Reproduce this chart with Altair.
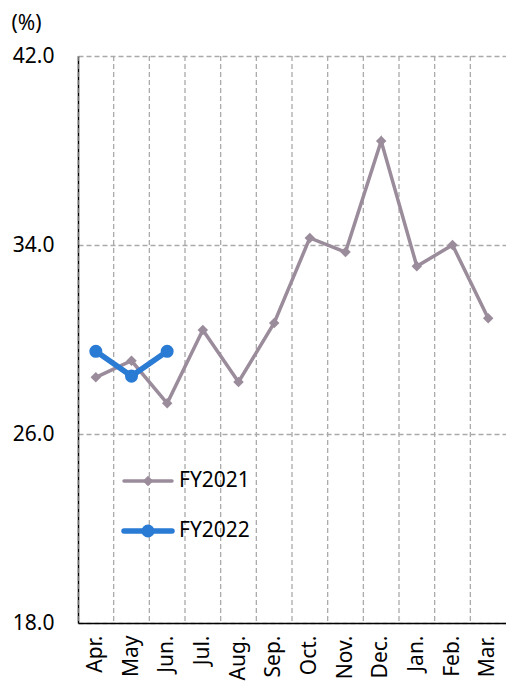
import altair as alt
import pandas as pd

months = ["Apr.", "May", "Jun.", "Jul.", "Aug.", "Sep.", "Oct.", "Nov.", "Dec.", "Jan.", "Feb.", "Mar."]
fy2021 = [28.4, 29.1, 27.3, 30.4, 28.2, 30.7, 34.3, 33.7, 38.4, 33.1, 34.0, 30.9]
fy2022 = [29.5, 28.45, 29.5]
series_names = ["FY2021", "FY2022"]
y_ticks = [18, 26, 34, 42]

c21 = "#9b8c9b"
c22 = "#2a7bd4"
FONT = "Noto Sans"
FS = 21

df21 = pd.DataFrame({"month": months, "value": fy2021})
df22 = pd.DataFrame({"month": months[:3], "value": fy2022})
dfm = pd.DataFrame({"month": months})

xsc = alt.Scale(domain=months, paddingInner=0, paddingOuter=0)
ysc = alt.Scale(domain=[18, 42], nice=False, zero=False)

xenc = alt.X("month:N", sort=months, scale=xsc, title=None,
             axis=alt.Axis(labelAngle=-90, labelFontSize=FS, labelFont=FONT, labelColor="black",
                           labelPadding=12, ticks=False, domainColor="black", domainWidth=1.5,
                           labelAlign="right", labelBaseline="middle"))
yenc = alt.Y("value:Q", scale=ysc, title="(%)",
             axis=alt.Axis(values=y_ticks, format=".1f", labelFontSize=FS, labelFont=FONT,
                           labelColor="black", labelPadding=24, ticks=False,
                           domainColor="black", domainWidth=1.5,
                           grid=True, gridColor="#aaaaaa", gridDash=[5, 3], gridWidth=1.3,
                           titleAngle=0, titleFontSize=FS, titleFont=FONT, titleFontWeight="normal",
                           titleColor="black", titleAlign="left", titleBaseline="top",
                           titleX=-67, titleY=-44))

vgrid = alt.Chart(dfm).mark_rule(color="#aaaaaa", strokeDash=[5, 3], strokeWidth=1.3).encode(
    x=alt.X("month:N", sort=months, scale=xsc, bandPosition=0, title=None)
)

line21 = alt.Chart(df21).mark_line(color=c21, strokeWidth=3.5).encode(x=xenc, y=yenc)
pts21 = alt.Chart(df21).mark_point(shape="diamond", filled=True, color=c21, size=110, opacity=1).encode(x=xenc, y=yenc)
line22 = alt.Chart(df22).mark_line(color=c22, strokeWidth=5.5, strokeCap="round").encode(x=xenc, y=yenc)
pts22 = alt.Chart(df22).mark_point(shape="circle", filled=True, color=c22, size=170, opacity=1).encode(x=xenc, y=yenc)

leg = []
for i, (name, col, shp, sw, sz) in enumerate([(series_names[0], c21, "diamond", 3.5, 110),
                                               (series_names[1], c22, "circle", 5.5, 170)]):
    d = pd.DataFrame({"s": [name]})
    yy = 425 + i * 50
    leg.append(alt.Chart(d).mark_rule(color=col, strokeWidth=sw, strokeCap="round").encode(
        x=alt.value(46), x2=alt.value(94), y=alt.value(yy)))
    leg.append(alt.Chart(d).mark_point(shape=shp, filled=True, color=col, size=sz, opacity=1).encode(
        x=alt.value(70), y=alt.value(yy)))
    leg.append(alt.Chart(d).mark_text(align="left", baseline="middle", fontSize=FS, font=FONT,
                                      color="black").encode(
        x=alt.value(101), y=alt.value(yy), text="s:N"))

chart = alt.layer(vgrid, line21, pts21, line22, pts22, *leg).properties(
    width=428, height=567,
    autosize=alt.AutoSizeParams(type="none"),
    padding={"left": 70, "top": 48, "right": 0, "bottom": 58},
).configure_view(stroke=None)

chart.save("out.html", embed_options={"renderer": "svg", "actions": False})
